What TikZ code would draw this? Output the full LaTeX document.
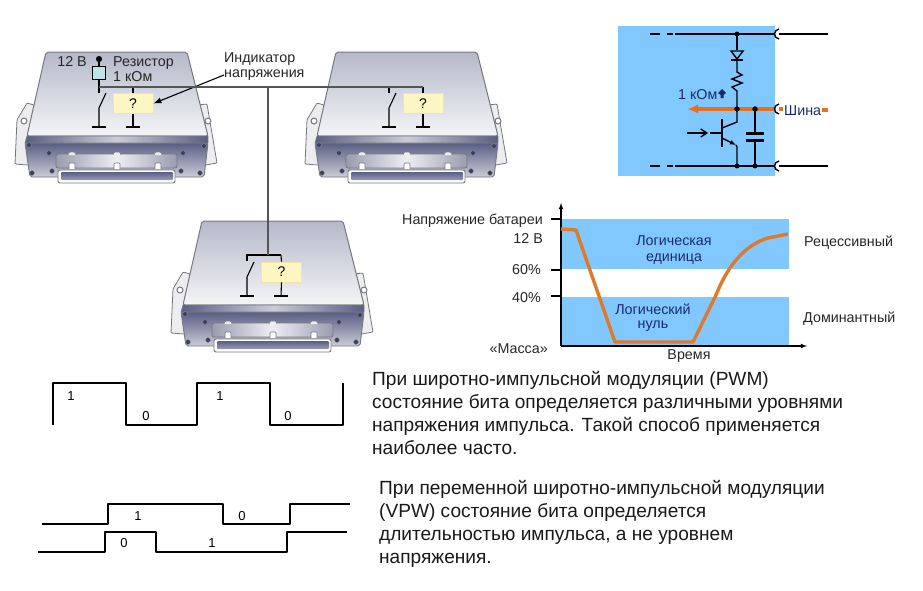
\documentclass[tikz,border=0pt]{standalone}
\usepackage{fontspec}
\setmainfont{Liberation Sans}
\usetikzlibrary{positioning,arrows.meta}
\definecolor{bandblue}{HTML}{80C8FF}
\definecolor{busorange}{HTML}{E8701A}
\definecolor{curveorange}{HTML}{DE7A2A}
\definecolor{inknavy}{HTML}{1A2A70}
\definecolor{wiregray}{HTML}{555555}
\definecolor{casegray}{HTML}{76787F}
\definecolor{platetop}{HTML}{B4B8C9}
\definecolor{platelow}{HTML}{F5F5F7}
\definecolor{fronttop}{HTML}{5A5E84}
\definecolor{frontlow}{HTML}{CBCCD6}
\definecolor{screwink}{HTML}{3C3F58}
\definecolor{plugedge}{HTML}{9A9CB0}
\definecolor{plugmid}{HTML}{EEEEF2}
\definecolor{earfill}{HTML}{EDEDEF}
\definecolor{boxfill}{HTML}{FDF6C3}
\definecolor{boxedge}{HTML}{EDE6A8}
\definecolor{resfill}{HTML}{BFE3E6}
\tikzset{
	wire/.style={draw=black,line width=1.1pt},
	buswire/.style={draw=wiregray,line width=1.5pt},
	pulse/.style={draw=black,line width=2pt,line join=round},
	railwire/.style={draw=black,line width=1.4pt},
	indbox/.style={draw=boxedge,fill=boxfill,line width=0.8pt,minimum width=40pt,minimum height=20pt,inner sep=0pt,font=\fontsize{14}{16}\selectfont},
	lbl/.style={font=\fontsize{14.3}{16}\selectfont,inner sep=0pt,text=black!85},
	navylbl/.style={lbl,text=inknavy},
	para/.style={font=\fontsize{19.1}{23}\selectfont,inner sep=0pt,anchor=north west,align=left,text=black!90},
	bit/.style={font=\fontsize{13}{14}\selectfont,inner sep=0pt},
	screw/.style={fill=screwink,draw=screwink!60},
	ecu/.pic={
		% ears
		\filldraw [casegray,fill=earfill,line width=0.8pt,rounded corners=1pt] (34,105)--(27,103)--(17,120)--(15,164)--(40,166)--cycle;
		\filldraw [casegray,fill=earfill,line width=0.8pt,rounded corners=1pt] (198,105)--(207,104)--(217,163)--(200,166)--cycle;
		\filldraw [casegray,fill=white,line width=1pt] (24,121) circle (3pt);
		\filldraw [casegray,fill=white,line width=1pt] (208,121) circle (3pt);
		% top plate
		\shade [top color=platetop,bottom color=platelow,draw=casegray,line width=1pt,rounded corners=2pt] (46,52)--(187,52)--(208,136)--(27,136)--cycle;
		% front
		\shade [top color=fronttop,bottom color=frontlow,draw=casegray,line width=0.9pt,rounded corners=2pt] (25,143)--(208,143)--(204,177)--(30,177)--cycle;
		\shade [left color=fronttop,right color=fronttop,middle color=frontlow,draw=casegray,line width=0.6pt] (27,136)--(208,136)--(208,143)--(25,143)--cycle;
		% screws
		\foreach \sx/\sy in {29/145,49/153,32/173,52/171,204/146,183/153,200/173,181/171}
			\filldraw [screw] (\sx,\sy) circle (2.4pt);
		% connector
		\shade [left color=plugedge,right color=plugedge,middle color=plugmid,draw=casegray,line width=0.9pt,rounded corners=2pt] (56,154) rectangle (177,168);
		\foreach \sx in {72,117,158} {
			\filldraw [casegray,fill=plugmid,line width=0.6pt,rounded corners=1pt] (\sx-4,155)--(\sx-3,152)--(\sx+3,152)--(\sx+4,155);
			\filldraw [casegray,fill=white,line width=0.6pt,rounded corners=1pt] (\sx-3,169)--(\sx-3,163)--(\sx+3,163)--(\sx+3,169);
		}
		\filldraw [casegray,fill=white,line width=0.9pt,rounded corners=2pt] (58,170) rectangle (175,183);
		\shade [top color=fronttop,bottom color=plugedge,rounded corners=1pt] (61,172) rectangle (173,180);
	}
}
\begin{document}
\begin{tikzpicture}[x=1pt,y=-1pt]
	\useasboundingbox (0,0) rectangle (923,590);
	% three control units
	\pic at (0,0) {ecu};
	\pic at (290,0) {ecu};
	\pic at (156,169) {ecu};

	% first unit
	\node [indbox] (box1) at (133,103.5) {?};
	\node [lbl,anchor=east] (volt1) at (87,62) {12 В};
	\filldraw [black] (99,59) circle (2.8pt) coordinate (pin1);
	\node [draw=black,line width=0.9pt,fill=resfill,minimum size=13pt,inner sep=0pt] (res1) at (99,73) {};
	\node [lbl,anchor=west] (reslbl1) at (113,63) {Резистор};
	\node [lbl,anchor=west] (reslbl2) at (113,77) {1 кОм};
	\node [lbl,anchor=west] (indlbl1) at (224,59) {Индикатор};
	\node [lbl,anchor=west] (indlbl2) at (224,75) {напряжения};
	\coordinate (sw1) at (99,93);
	\coordinate (gnd1) at (99,127);
	\coordinate (gnd2) at (133,127);
	\coordinate (bus1) at (99,87);
	\coordinate (bus2) at (423,87);
	\coordinate (busT) at (268,87);
	\draw [wire] (pin1)--(res1);
	\draw [wire] (res1)--(sw1);
	\draw [wire] (106,93)--(99,108)--(gnd1);
	\draw [wire] ([xshift=-7pt]gnd1)--([xshift=7pt]gnd1);
	\draw [wire] (box1.north)--(133,87);
	\draw [wire] (box1.south)--(gnd2);
	\draw [wire] ([xshift=-7pt]gnd2)--([xshift=7pt]gnd2);
	\draw [wire,-{Latex[length=8pt,width=6pt]}] (indlbl2.west)--(box1.east);

	% second unit
	\node [indbox] (box2) at (423,103.5) {?};
	\coordinate (gnd3) at (389,127);
	\coordinate (gnd4) at (423,127);
	\draw [wire] (389,87)--(389,93);
	\draw [wire] (396,93)--(389,108)--(gnd3);
	\draw [wire] ([xshift=-7pt]gnd3)--([xshift=7pt]gnd3);
	\draw [wire] (bus2)--(box2.north);
	\draw [wire] (box2.south)--(gnd4);
	\draw [wire] ([xshift=-7pt]gnd4)--([xshift=7pt]gnd4);

	% third unit
	\node [indbox] (box3) at (281.5,272) {?};
	\coordinate (gnd5) at (247,296);
	\coordinate (gnd6) at (281,296);
	\draw [wire] (281,255)--(247,255)--(247,261);
	\draw [wire] (254,262)--(247,277)--(gnd5);
	\draw [wire] ([xshift=-7pt]gnd5)--([xshift=7pt]gnd5);
	\draw [wire] (281,255)--(box3.north);
	\draw [wire] (box3.south)--(gnd6);
	\draw [wire] ([xshift=-7pt]gnd6)--([xshift=7pt]gnd6);

	% bus
	\draw [buswire] (bus1)--(bus2);
	\draw [buswire] (busT)--(268,255);

	% circuit
	\fill [bandblue] (618,26) rectangle (775,176);
	\foreach \ry/\rn in {34/top,166/bot} {
		\draw [railwire] (650,\ry)--(660,\ry);
		\draw [railwire] (667,\ry)--(673,\ry);
		\draw [railwire] (675,\ry)--(774,\ry);
		\draw [railwire] (779,\ry-5) .. controls (773,\ry-4) and (773,\ry+4) .. (779,\ry+5);
		\draw [railwire] (779,\ry)--(828,\ry);
		\filldraw [black] (737,\ry) circle (2.2pt);
	}
	\filldraw [black] (755,166) circle (2.2pt);
	\draw [railwire] (737,34)--(737,50);
	\draw [railwire,fill=bandblue] (731,51)--(743,51)--(737,59)--cycle;
	\draw [line width=2pt] (731,60)--(743,60);
	\draw [railwire] (737,60)--(737,72)--(742,75)--(732,79)--(742,83)--(732,87)--(737,91)--(737,109);
	\draw [line width=3.2pt,busorange,-{Latex[length=11pt,width=9pt]}] (774,109)--(687,109);
	\draw [line width=3.2pt,busorange] (779,109)--(783,109);
	\draw [line width=3.2pt,busorange] (822,110)--(828,110);
	\filldraw [black] (737,109) circle (2.4pt);
	\filldraw [black] (755,109) circle (2.4pt);
	\draw [railwire] (779,104) .. controls (773,105) and (773,113) .. (779,114);
	\draw [railwire] (755,109)--(755,133);
	\draw [line width=2.6pt] (746,133.5)--(764,133.5);
	\draw [line width=2.6pt] (746,140.5)--(764,140.5);
	\draw [railwire] (755,141)--(755,166);
	\draw [line width=2.8pt] (722,119)--(722,147);
	\draw [railwire] (710,133)--(722,133);
	\draw [railwire,-{Straight Barb[length=6pt,width=8pt]}] (687,133)--(708,133);
	\draw [railwire] (722,128)--(737,122)--(737,109);
	\draw [railwire,-{Latex[length=6pt,width=5pt]}] (722,138)--(736,145);
	\draw [railwire] (736,145)--(737,147)--(737,166);
	\node [navylbl,anchor=west] (ohm) at (678,95) {1 кОм};
	\fill [inknavy] (722,89)--(726,93)--(723.5,95)--(723.5,98)--(720.5,98)--(720.5,95)--(718,93)--cycle;
	\node [navylbl,anchor=west] (shina) at (784,111) {Шина};

	% chart
	\fill [bandblue] (561,219) rectangle (789,269);
	\fill [bandblue] (561,297) rectangle (789,346);
	\draw [wire,-latex] (561,346)--(561,203);
	\draw [wire,-latex] (561,346)--(807,346);
	\draw [wire] (551,219)--(561,219);
	\draw [wire] (551,270)--(561,270);
	\draw [wire] (551,296)--(561,296);
	\draw [line width=3.4pt,curveorange,line join=round] (561,229)--(576,230)--(615,342)--(693,342)--(716,295) .. controls (728,265) and (745,245) .. (768,238)--(788,234);
	\node [lbl,anchor=east] (vbat) at (543,221) {Напряжение батареи};
	\node [lbl,anchor=east] (v12) at (543,238) {12 В};
	\node [lbl,anchor=east] (p60) at (541,270) {60\%};
	\node [lbl,anchor=east] (p40) at (541,298) {40\%};
	\node [lbl,anchor=east] (massa) at (548,349) {«Масса»};
	\node [lbl] (timelbl) at (689,356) {Время};
	\node [lbl,anchor=west] (recess) at (804,243) {Рецессивный};
	\node [lbl,anchor=west] (domin) at (803,319) {Доминантный};
	\node [navylbl] (one1) at (674,241) {Логическая};
	\node [navylbl] (one2) at (674,259) {единица};
	\node [navylbl] (zero1) at (653,309) {Логический};
	\node [navylbl] (zero2) at (653,326) {нуль};

	% pulses
	\draw [pulse] (53,425)--(53,383)--(126,383)--(126,425)--(197,425)--(197,383)--(270,383)--(270,425)--(343,425)--(343,383);
	\node [bit] (pa) at (71,396) {1};
	\node [bit] (pb) at (146,416) {0};
	\node [bit] (pc) at (220,396) {1};
	\node [bit] (pd) at (288,416) {0};
	\draw [pulse] (42,524)--(108,524)--(108,504)--(223,504)--(223,524)--(290,524)--(290,504)--(350,504);
	\draw [pulse] (38,552)--(105,552)--(105,532)--(156,532)--(156,552)--(287,552)--(287,532)--(347,532);
	\node [bit] (va) at (138,516) {1};
	\node [bit] (vb) at (242,516) {0};
	\node [bit] (vc) at (124,543) {0};
	\node [bit] (vd) at (212,543) {1};

	% text
	\node [para] (pwm) at (372,371) {При широтно-импульсной модуляции (PWM)\\состояние бита определяется различными уровнями\\напряжения импульса. Такой способ применяется\\наиболее часто.};
	\node [para] (vpw) at (379,480) {При переменной широтно-импульсной модуляции\\(VPW) состояние бита определяется\\длительностью импульса, а не уровнем\\напряжения.};
\end{tikzpicture}
\end{document}
